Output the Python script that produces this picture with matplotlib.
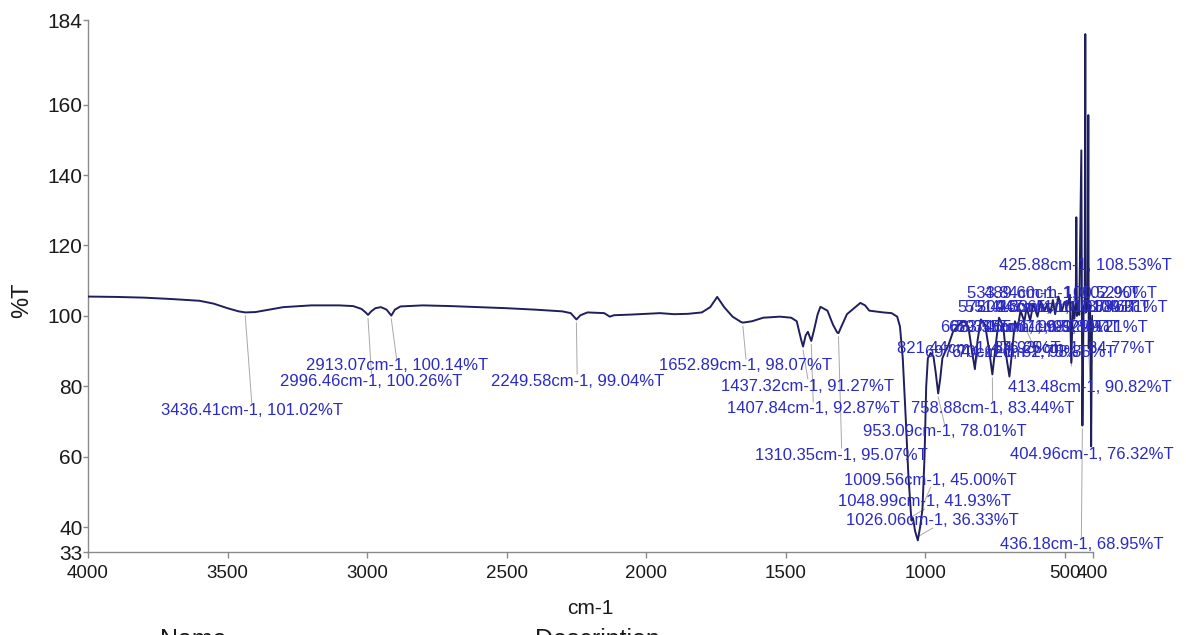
import matplotlib
matplotlib.use('Agg')
import matplotlib.pyplot as plt

FAM = ['Liberation Sans Narrow', 'Liberation Sans', 'DejaVu Sans']

# ---------------- data ----------------
wavenumber = [4000, 3900, 3800, 3700, 3600, 3550, 3500, 3460, 3436.41, 3400, 3350, 3300,
              3200, 3100, 3050, 3020, 3005, 2996.46, 2985, 2970, 2950, 2930, 2913.07, 2900,
              2880, 2800, 2700, 2600, 2500, 2400, 2300, 2270, 2249.58, 2235, 2210, 2150,
              2130, 2115, 2050, 2000, 1950, 1900, 1850, 1800, 1770, 1745, 1720, 1690,
              1660, 1652.89, 1620, 1580, 1520, 1480, 1460, 1445, 1437.32, 1428, 1420,
              1407.84, 1398, 1385, 1375, 1350, 1330, 1315, 1310.35, 1300, 1280, 1250,
              1232, 1215, 1200, 1150, 1120, 1100, 1090, 1080, 1070, 1060, 1048.99, 1043,
              1036, 1026.06, 1018, 1009.56, 1002, 996, 990, 980, 970, 962, 953.09, 946,
              938, 930, 915, 900, 880, 860, 845, 832, 821.44, 812, 800, 785, 770, 758.88,
              748, 735, 720, 708, 697.70, 688, 678, 668.31, 658, 644.12, 636, 623.55, 612,
              597.17, 586, 572.41, 562, 551.26, 542, 533.84, 522, 509.33, 500, 489.60, 481,
              476.25, 470, 465.07, 460, 458, 456, 450, 447.65, 440, 438, 436.18, 432, 428,
              425.88, 424, 420, 417, 415, 414, 413.48, 410, 407, 404.96, 402, 400]
transmittance = [105.5, 105.4, 105.2, 104.8, 104.3, 103.5, 102.2, 101.3, 101.0, 101.1, 101.8, 102.5,
                 103.0, 103.0, 102.8, 102.0, 101.0, 100.3, 101.3, 102.2, 102.5, 101.8, 100.1, 101.8,
                 102.7, 103.0, 102.8, 102.5, 102.2, 101.8, 101.3, 100.8, 99.0, 100.2, 101.0, 100.8,
                 99.8, 100.2, 100.4, 100.6, 100.8, 100.5, 100.6, 101.0, 102.5, 105.4, 102.5, 99.8,
                 98.3, 98.1, 98.5, 99.5, 99.8, 99.5, 98.5, 93.5, 91.3, 94.5, 95.5,
                 92.9, 96.0, 100.5, 102.6, 101.5, 97.5, 95.3, 95.1, 97.0, 100.5, 102.5,
                 103.7, 103.0, 101.5, 101.0, 100.8, 99.8, 97.0, 88.0, 72.0, 55.0, 41.9, 42.5,
                 39.0, 36.3, 40.0, 45.0, 60.0, 80.0, 88.0, 89.5, 88.5, 84.0, 78.0, 82.0,
                 88.0, 89.5, 92.0, 95.5, 97.5, 98.5, 97.0, 90.0, 84.9, 93.0, 99.0, 97.5, 90.0, 83.4,
                 91.0, 99.5, 97.0, 88.0, 82.8, 90.0, 98.5, 96.5, 101.5, 98.4, 102.5, 98.7, 103.5,
                 99.8, 104.0, 101.4, 103.5, 100.9, 104.5, 100.5, 105.5, 101.5, 104.0, 102.9, 106.0,
                 86.7, 104.0, 99.2, 104.0, 128.0, 100.0, 104.0, 100.3, 147.0, 100.0, 68.9, 102.0, 104.0,
                 180.0, 101.0, 104.0, 102.0, 157.0, 101.0, 90.8, 103.0, 98.0, 63.0, 96.0, 100.0]

# peak annotations (text values as printed on the chart)
peak_wn = [3436.41, 2996.46, 2913.07, 2249.58, 1652.89, 1437.32, 1407.84, 1310.35,
           1048.99, 1026.06, 1009.56, 953.09, 758.88, 436.18, 404.96, 413.48, 425.88,
           533.84, 489.60, 572.41, 551.26, 509.33, 447.65, 668.31, 623.55, 597.17, 465.07,
           821.44, 476.25, 697.70, 644.12]
peak_T = [101.02, 100.26, 100.14, 99.04, 98.07, 91.27, 92.87, 95.07,
          41.93, 36.33, 45.00, 78.01, 83.44, 68.95, 76.32, 90.82, 108.53,
          100.52, 102.90, 101.37, 100.88, 101.46, 100.31, 96.52, 98.71, 99.80, 99.21,
          84.93, 84.77, 82.75, 98.35]

# label layout (centre of each label, in axis units)
label_x = [3413, 2984, 2894, 2247, 1642, 1420, 1401, 1299,
           1002, 973, 980, 930, 758, 440, 404, 409, 424,
           540, 478, 572, 547, 504, 440, 651, 622, 594, 494,
           809, 469, 708, 612]
label_y = [73.3, 81.5, 85.8, 81.5, 85.8, 80.1, 73.6, 60.5,
           47.2, 41.8, 53.4, 67.1, 73.6, 35.0, 60.8, 79.6, 114.2,
           106.5, 106.5, 102.3, 102.3, 102.3, 102.3, 96.6, 96.6, 96.6, 96.6,
           90.9, 90.9, 89.5, 89.5]

x_ticks = [4000, 3500, 3000, 2500, 2000, 1500, 1000, 500, 400]
y_ticks = [33, 40, 60, 80, 100, 120, 140, 160, 184]

# ---------------- figure ----------------
W, H = 1186, 635
fig = plt.figure(figsize=(W / 100, H / 100), dpi=100)
ax = fig.add_axes([88 / W, 1 - 552 / H, (1092.5 - 88) / W, (552 - 20) / H])

ax.plot(wavenumber, transmittance, color='#1f1f5e', lw=1.4, zorder=3)
ax.set_xlim(4000, 400)
ax.set_ylim(33, 184)

lab_color = '#2a2ac4'
half_h = 2.0
for w, t, lx, ly in zip(peak_wn, peak_T, label_x, label_y):
    txt = f'{w:.2f}cm-1, {t:.2f}%T'
    ax.text(lx, ly, txt, ha='center', va='center', color=lab_color,
            fontsize=12, family=FAM, zorder=4)
    if ly < t:
        y0, y1 = t - 1.0, ly + half_h
    else:
        y0, y1 = t + 1.0, ly - half_h
    if (ly < t and y1 < y0) or (ly > t and y1 > y0):
        ax.plot([w, lx], [y0, y1], color='#a8a8a8', lw=0.7, zorder=2)

ax.set_xticks(x_ticks)
ax.set_xticklabels([str(v) for v in x_ticks])
ax.set_yticks(y_ticks)
ax.set_yticklabels([str(v) for v in y_ticks])

for s in ['top', 'right']:
    ax.spines[s].set_visible(False)
for s in ['left', 'bottom']:
    ax.spines[s].set_color('#8a8a8a')
    ax.spines[s].set_linewidth(1.0)

ax.tick_params(axis='both', colors='#8a8a8a', width=1.0, labelcolor='#1a1a1a')
ax.tick_params(axis='y', length=3.5, pad=0.5)
ax.tick_params(axis='x', length=4.5, pad=5)
for lab in ax.get_xticklabels():
    lab.set_family(FAM)
    lab.set_fontsize(13.5)
for lab in ax.get_yticklabels():
    lab.set_family(FAM)
    lab.set_fontsize(15)

ax.set_xlabel('cm-1', family=FAM, fontsize=15, color='#1a1a1a', labelpad=12)
fig.text(22 / W, 1 - 300 / H, '%T', rotation=90, ha='center', va='center',
         family=FAM, fontsize=17, color='#1a1a1a')

# cut-off captions at the bottom edge
fig.text(160 / W, 1 - 628 / H, 'Name', ha='left', va='top', family=FAM,
         fontsize=18, color='#1a1a1a')
fig.text(535 / W, 1 - 628 / H, 'Description', ha='left', va='top', family=FAM,
         fontsize=18, color='#1a1a1a')

fig.savefig('out.png', dpi=100)
